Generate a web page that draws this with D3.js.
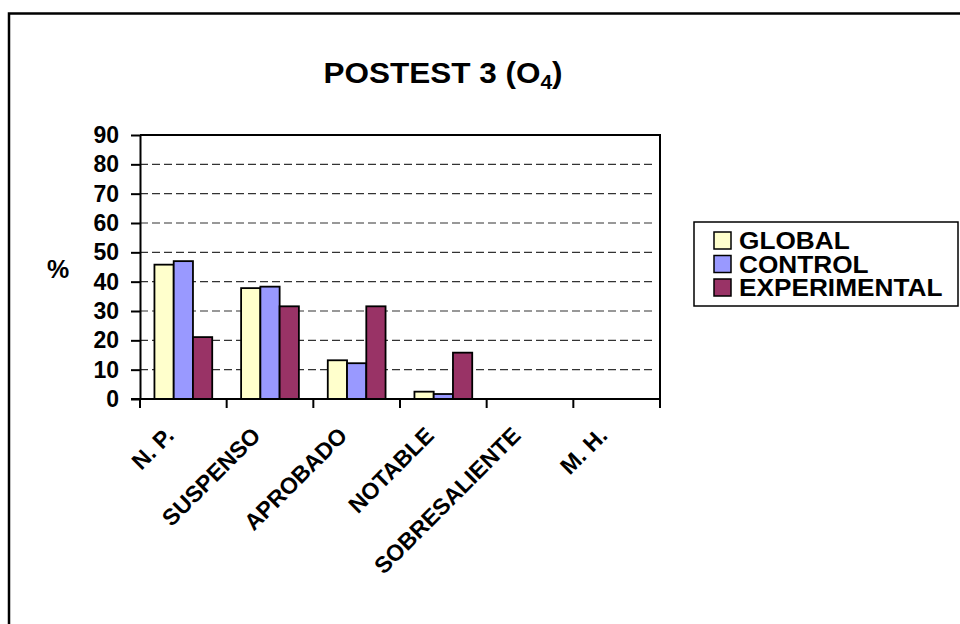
<!DOCTYPE html>
<html><head><meta charset="utf-8">
<script src="https://cdn.jsdelivr.net/npm/d3@7"></script>
<style>
html,body{margin:0;padding:0;background:#fff;}
text{font-family:'Liberation Sans',Arial,sans-serif;font-weight:bold;fill:#000;}
</style></head>
<body>
<svg id="chart" width="960" height="624"></svg>
<script>
const categories = ["N. P.", "SUSPENSO", "APROBADO", "NOTABLE", "SOBRESALIENTE", "M. H."];
const seriesNames = ["GLOBAL", "CONTROL", "EXPERIMENTAL"];
const globalValues = [45.8, 37.8, 13.2, 2.5, 0, 0];
const controlValues = [47.0, 38.3, 12.2, 1.7, 0, 0];
const experimentalValues = [21.1, 31.6, 31.6, 15.8, 0, 0];
const seriesColors = ["#FFFFCC", "#9999FF", "#993366"];
const yTicks = [0, 10, 20, 30, 40, 50, 60, 70, 80, 90];
const titleMain = "POSTEST 3 (O";
const titleSub = "4";
const yLabel = "%";

const seriesValues = [globalValues, controlValues, experimentalValues];
const svg = d3.select("#chart");

// outer border
svg.append("rect").attr("x", 9).attr("y", 13.5).attr("width", 960).attr("height", 640)
  .attr("fill", "none").attr("stroke", "#000").attr("stroke-width", 2.5);

const plot = {left: 140, right: 660, top: 135, bottom: 399};
const x0 = d3.scaleBand().domain(categories).range([plot.left, plot.right]).paddingInner(0).paddingOuter(0);
const x1 = d3.scaleBand().domain(seriesNames).range([0, x0.bandwidth()]).paddingInner(0).paddingOuter(0.75);
const y = d3.scaleLinear().domain([0, 90]).range([plot.bottom, plot.top]);

// gridlines
svg.append("g").selectAll("line").data(yTicks.filter(t => t > 0 && t < 90)).join("line")
  .attr("x1", plot.left).attr("x2", plot.right - 4)
  .attr("y1", d => y(d)).attr("y2", d => y(d))
  .attr("stroke", "#333").attr("stroke-width", 1.2).attr("stroke-dasharray", "8,4");

// bars
const rows = [];
categories.forEach((c, i) => seriesNames.forEach((s, j) => rows.push({c, s, j, v: seriesValues[j][i]})));
svg.append("g").selectAll("rect").data(rows.filter(d => d.v > 0)).join("rect")
  .attr("x", d => x0(d.c) + x1(d.s))
  .attr("y", d => y(d.v))
  .attr("width", x1.bandwidth())
  .attr("height", d => y(0) - y(d.v))
  .attr("fill", d => seriesColors[d.j])
  .attr("stroke", "#000").attr("stroke-width", 1.8);

// plot frame (top & right)
svg.append("path")
  .attr("d", `M${plot.left},${plot.top}H${plot.right}V${plot.bottom}`)
  .attr("fill", "none").attr("stroke", "#000").attr("stroke-width", 2);

// y axis
const yAxis = d3.axisLeft(y).tickValues(yTicks).tickSize(9).tickPadding(12).tickSizeOuter(0);
const gy = svg.append("g").attr("transform", `translate(${plot.left},0)`).call(yAxis);
gy.select(".domain").attr("stroke", "#000").attr("stroke-width", 2);
gy.selectAll(".tick line").attr("stroke", "#000").attr("stroke-width", 2);
gy.selectAll(".tick text").attr("font-size", 23).attr("font-family", "'Liberation Sans',Arial,sans-serif")
  .attr("font-weight", "bold").attr("fill", "#000");

// x axis line and ticks at category boundaries
svg.append("line").attr("x1", plot.left - 9).attr("x2", plot.right)
  .attr("y1", plot.bottom).attr("y2", plot.bottom).attr("stroke", "#000").attr("stroke-width", 2);
const boundaries = categories.map(c => x0(c)).concat([x0.range()[1]]);
svg.append("g").selectAll("line").data(boundaries).join("line")
  .attr("x1", d => d).attr("x2", d => d).attr("y1", plot.bottom).attr("y2", plot.bottom + 9)
  .attr("stroke", "#000").attr("stroke-width", 2);

// x labels rotated
svg.append("g").selectAll("text").data(categories).join("text")
  .attr("transform", d => `translate(${x0(d) + x0.bandwidth() / 2 - 8},${plot.bottom + 38}) rotate(-45)`)
  .attr("text-anchor", "end").attr("font-size", 23).text(d => d);

// y label
svg.append("text").attr("x", 58).attr("y", 278).attr("text-anchor", "middle").attr("font-size", 25).text(yLabel);

// title
const t = svg.append("text").attr("transform", "translate(443,83) scale(1.05,1)")
  .attr("text-anchor", "middle").attr("font-size", 30);
t.append("tspan").text(titleMain);
t.append("tspan").attr("font-size", 20).attr("dy", 6).text(titleSub);
t.append("tspan").attr("dy", -6).text(")");

// legend
const lg = svg.append("g");
lg.append("rect").attr("x", 694).attr("y", 222).attr("width", 264).attr("height", 84)
  .attr("fill", "#fff").attr("stroke", "#000").attr("stroke-width", 1.5);
const items = lg.selectAll("g.item").data(seriesNames).join("g").attr("class", "item")
  .attr("transform", (d, i) => `translate(714,${232 + i * 23.5})`);
items.append("rect").attr("width", 17).attr("height", 17)
  .attr("fill", (d, i) => seriesColors[i]).attr("stroke", "#000").attr("stroke-width", 1.5);
items.append("text").attr("transform", "translate(25,17) scale(1.14,1)")
  .attr("font-size", 23).text(d => d);
</script>
</body></html>
